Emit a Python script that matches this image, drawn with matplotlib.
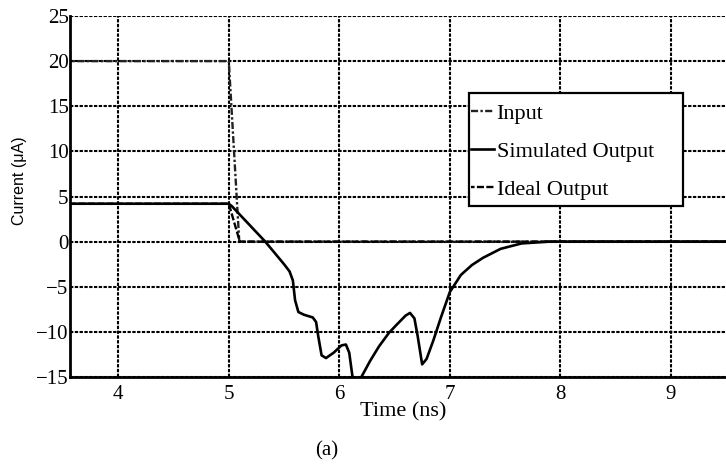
import matplotlib
matplotlib.use("Agg")
import matplotlib.pyplot as plt
from matplotlib.patches import Rectangle

# data (time in ns, current in uA)
t_input = [3.5, 5.0, 5.095, 9.6]
i_input = [20.0, 20.0, 0.0, 0.0]

t_ideal = [3.5, 5.0, 5.1, 9.6]
i_ideal = [4.2, 4.2, 0.0, 0.0]

t_sim = [3.5, 5.0, 5.03, 5.33, 5.50, 5.55, 5.58, 5.60, 5.63, 5.68, 5.76, 5.79,
         5.81, 5.84, 5.88, 5.95, 6.02, 6.06, 6.09, 6.12, 6.15, 6.17, 6.20,
         6.28, 6.36, 6.45, 6.52, 6.60, 6.64, 6.68, 6.71, 6.75, 6.79, 6.85,
         6.92, 7.0, 7.1, 7.2, 7.3, 7.46, 7.65, 7.9, 8.3, 9.6]
i_sim = [4.2, 4.2, 3.9, 0.0, -2.5, -3.3, -4.3, -6.5, -7.8, -8.1, -8.4, -8.9,
         -10.5, -12.6, -12.9, -12.3, -11.5, -11.4, -12.3, -15.0, -16.5, -16.5, -15.0,
         -13.2, -11.6, -10.1, -9.2, -8.2, -7.9, -8.5, -10.5, -13.6, -13.0, -11.0,
         -8.4, -5.6, -3.7, -2.6, -1.8, -0.8, -0.2, 0.0, 0.0, 0.0]

x_ticks = [4, 5, 6, 7, 8, 9]
y_ticks = [-15, -10, -5, 0, 5, 10, 15, 20, 25]

serif = "Liberation Serif"

fig = plt.figure(figsize=(7.26, 4.67), dpi=100)
ax = fig.add_axes([70 / 726, 1 - 377 / 467, 656 / 726, 361 / 467])

ax.plot(t_input, i_input, color="#222222", lw=1.7, ls=(0, (3, 1, 1, 1)), label="Input")
ax.plot(t_sim, i_sim, color="black", lw=1.9, label="Simulated Output")
ax.plot(t_ideal, i_ideal, color="black", lw=1.7, ls=(1.5, (3, 1)), label="Ideal Output")

ax.set_xlim(3.563, 9.50)
ax.set_ylim(-15, 25)
ax.set_xticks(x_ticks)
ax.set_yticks(y_ticks)
ax.grid(True, color="black", lw=1.5, ls=(0, (1.6, 0.7)))
ax.set_axisbelow(True)

for side in ["top", "right"]:
    ax.spines[side].set_visible(False)
for side in ["left", "bottom"]:
    ax.spines[side].set_linewidth(2.0)

ax.tick_params(length=0, labelsize=15)
ax.tick_params(axis="y", pad=1)
ax.tick_params(axis="x", pad=6)
for lab in ax.get_xticklabels() + ax.get_yticklabels():
    lab.set_family(serif)

fig.text(403 / 726, 1 - 412 / 467, "Time (ns)", ha="center", va="center",
         family=serif, fontsize=16)
fig.text(20 / 726, 1 - 181 / 467, "Current (\u03bcA)", ha="center", va="center",
         rotation=90, family="Liberation Sans", fontsize=11.5)
fig.text(327 / 726, 1 - 451 / 467, "(a)", ha="center", va="center",
         family=serif, fontsize=15)

# legend frame drawn as its own box, entries placed inside it
fig.patches.append(Rectangle((469 / 726, 1 - 206 / 467), 214 / 726, 113 / 467,
                             transform=fig.transFigure, facecolor="white",
                             edgecolor="black", lw=1.6, zorder=5))
leg = ax.legend(loc="upper left", bbox_to_anchor=(471 / 726, 1 - 103 / 467),
                bbox_transform=fig.transFigure, prop={"family": serif, "size": 16},
                handlelength=1.05, handletextpad=0.1, labelspacing=0.8,
                borderpad=0, borderaxespad=0, frameon=False)
leg.set_zorder(6)
fig.legends.append(leg)
ax.get_legend().remove()

fig.savefig("out.png", dpi=100)
